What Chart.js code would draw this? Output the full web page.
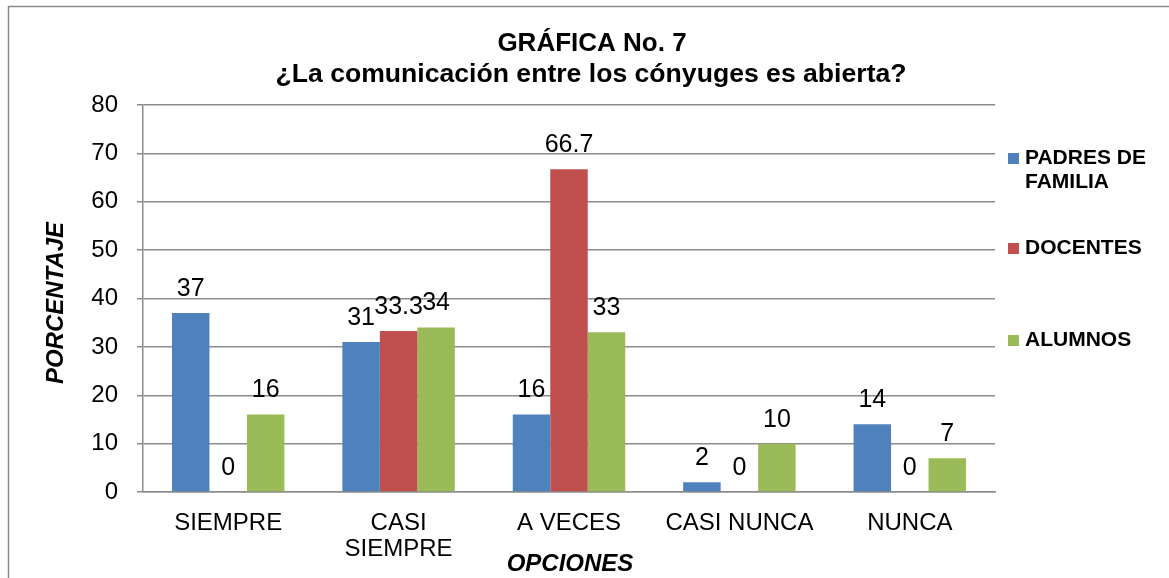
<!DOCTYPE html>
<html>
<head>
<meta charset="utf-8">
<script src="https://cdn.jsdelivr.net/npm/chart.js@4/dist/chart.umd.min.js"></script>
<style>
  html, body { margin: 0; padding: 0; background: #ffffff; }
  #wrap { width: 1169px; height: 578px; position: relative; }
</style>
</head>
<body>
<div id="wrap"><canvas id="c" width="1169" height="578"></canvas></div>
<script>
const titleLines = ["GRÁFICA No. 7", "¿La comunicación entre los cónyuges es abierta?"];
const categories = [["SIEMPRE"], ["CASI", "SIEMPRE"], ["A VECES"], ["CASI NUNCA"], ["NUNCA"]];
const seriesNames = ["PADRES DE FAMILIA", "DOCENTES", "ALUMNOS"];
const padres = [37, 31, 16, 2, 14];
const docentes = [0, 33.3, 66.7, 0, 0];
const alumnos = [16, 34, 33, 10, 7];
const yTitle = "PORCENTAJE";
const xTitle = "OPCIONES";
const yMin = 0, yMax = 80, yStep = 10;

const colors = ["#4F81BD", "#C0504D", "#9BBB59"];
const FONT = "Arial, 'Liberation Sans', sans-serif";
const GRID = "#8c8c8c";

const decorPlugin = {
  id: 'decor',
  beforeDraw(chart) {
    const ctx = chart.ctx;
    ctx.save();
    ctx.fillStyle = '#fff';
    ctx.fillRect(0, 0, chart.width, chart.height);
    ctx.strokeStyle = '#8a8a8a';
    ctx.lineWidth = 1.5;
    ctx.strokeRect(8.5, 6.5, 1300, 700);
    ctx.restore();
  },
  afterDraw(chart) {
    const ctx = chart.ctx;
    ctx.save();
    // title
    ctx.fillStyle = '#000';
    ctx.textAlign = 'center';
    ctx.textBaseline = 'middle';
    ctx.font = "bold 26px " + FONT;
    ctx.fillText(titleLines[0], 592, 44);
    ctx.font = "bold 26.6px " + FONT;
    ctx.fillText(titleLines[1], 591, 75);
    // axis titles
    ctx.font = "italic bold 24px " + FONT;
    ctx.fillText(xTitle, 570, 564);
    ctx.save();
    ctx.translate(56, 303);
    ctx.rotate(-Math.PI / 2);
    ctx.fillText(yTitle, 0, 0);
    ctx.restore();
    // legend
    ctx.font = "bold 21px " + FONT;
    ctx.textAlign = 'left';
    const startY = [158, 248, 340];
    chart.data.datasets.forEach((ds, i) => {
      const words = ds.label.split(' ');
      const lines = [];
      let cur = '';
      words.forEach(w => {
        const t = cur ? cur + ' ' + w : w;
        if (ctx.measureText(t).width > 140 && cur) { lines.push(cur); cur = w; } else cur = t;
      });
      if (cur) lines.push(cur);
      const y0 = startY[i];
      ctx.fillStyle = ds.backgroundColor;
      ctx.fillRect(1008, y0 - 5, 11, 11);
      ctx.fillStyle = '#000';
      lines.forEach((ln, k) => ctx.fillText(ln, 1025, y0 + k * 24));
    });
    ctx.restore();
  },
  afterDatasetsDraw(chart) {
    const ctx = chart.ctx;
    ctx.save();
    ctx.fillStyle = '#000';
    ctx.font = "25px " + FONT;
    ctx.textAlign = 'center';
    ctx.textBaseline = 'middle';
    chart.data.datasets.forEach((ds, i) => {
      const meta = chart.getDatasetMeta(i);
      meta.data.forEach((bar, j) => {
        ctx.fillText(String(ds.data[j]), bar.x, bar.y - 24);
      });
    });
    ctx.restore();
  }
};

new Chart(document.getElementById('c'), {
  type: 'bar',
  data: {
    labels: categories,
    datasets: [
      { label: seriesNames[0], data: padres, backgroundColor: colors[0] },
      { label: seriesNames[1], data: docentes, backgroundColor: colors[1] },
      { label: seriesNames[2], data: alumnos, backgroundColor: colors[2] }
    ]
  },
  options: {
    responsive: false,
    animation: false,
    devicePixelRatio: 1,
    layout: { padding: { left: 0, top: 105, right: 174, bottom: 0 } },
    plugins: { legend: { display: false }, title: { display: false }, tooltip: { enabled: false } },
    datasets: { bar: { categoryPercentage: 0.66, barPercentage: 1.0 } },
    scales: {
      x: {
        grid: { display: false },
        border: { display: true, color: GRID, width: 1.5 },
        ticks: { color: '#000', font: { family: FONT, size: 24, lineHeight: 1.1 }, padding: 10, maxRotation: 0, autoSkip: false },
        afterFit(s) { s.height = 86; }
      },
      y: {
        min: yMin, max: yMax,
        grid: { color: GRID, lineWidth: 1.5, tickLength: 6, drawTicks: true },
        border: { display: true, color: GRID, width: 1.5 },
        ticks: { stepSize: yStep, color: '#000', font: { family: FONT, size: 24 }, padding: 19 },
        afterFit(s) { s.width = 143; }
      }
    }
  },
  plugins: [decorPlugin]
});
</script>
</body>
</html>
